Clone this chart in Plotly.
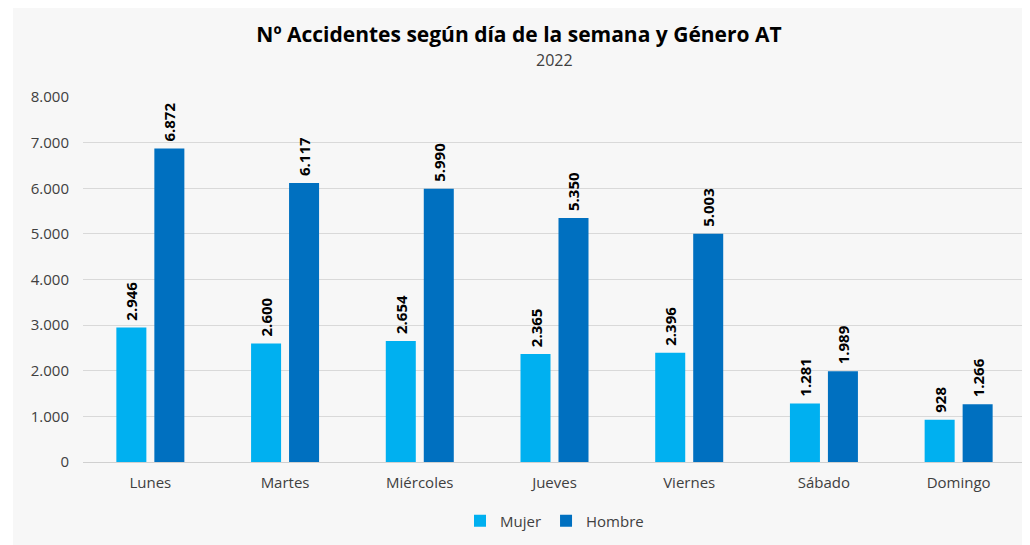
import plotly.graph_objects as go

dias = ["Lunes", "Martes", "Miércoles", "Jueves", "Viernes", "Sábado", "Domingo"]
mujer = [2946, 2600, 2654, 2365, 2396, 1281, 928]
hombre = [6872, 6117, 5990, 5350, 5003, 1989, 1266]
y_ticks = [0, 1000, 2000, 3000, 4000, 5000, 6000, 7000, 8000]

FONT = "Open Sans, Lato, Arial, sans-serif"

fig = go.Figure()
for name, vals, color in [("Mujer", mujer, "#00b0f0"), ("Hombre", hombre, "#0070c0")]:
    fig.add_trace(
        go.Bar(
            x=dias,
            y=vals,
            name=name,
            marker=dict(color=color, line=dict(width=0)),
            # a leading non-breaking space lifts the rotated label off the bar
            texttemplate="\u00a0%{y:,}",
            textposition="outside",
            textangle=-90,
            constraintext="none",
            textfont=dict(family=FONT, size=15, color="#000000", weight="bold"),
            cliponaxis=False,
        )
    )

# page body has an 8px margin, so the figure is sized 8px smaller
fig.update_layout(
    width=1022,
    height=537,
    separators=",.",
    barmode="group",
    bargap=0.436,
    bargroupgap=0.21,
    paper_bgcolor="#ffffff",
    plot_bgcolor="#f7f7f7",
    margin=dict(l=75, r=4, t=89, b=83, autoexpand=False),
    font=dict(family=FONT, size=15, color="#404040"),
    title=dict(
        text="<b>Nº Accidentes según día de la semana y Género AT</b>",
        x=0.5,
        xanchor="center",
        y=1 - 27 / 537,
        yanchor="middle",
        font=dict(family=FONT, size=21, color="#000000"),
    ),
    annotations=[
        dict(
            text="2022",
            xref="paper",
            yref="paper",
            x=0.5,
            y=1 + 37 / 365,
            xanchor="center",
            yanchor="middle",
            showarrow=False,
            font=dict(family=FONT, size=16, color="#404040"),
        )
    ],
    xaxis=dict(
        showline=False,
        ticks="",
        automargin=False,
        ticklabelstandoff=10,
        tickfont=dict(size=15, color="#404040"),
    ),
    yaxis=dict(
        range=[0, 8000],
        tickvals=y_ticks,
        tickformat=",",
        gridcolor="#d9d9d9",
        gridwidth=1,
        zeroline=True,
        zerolinecolor="#d0d0d0",
        zerolinewidth=1,
        ticks="",
        automargin=False,
        ticklabelstandoff=13,
        tickfont=dict(size=15, color="#404040"),
    ),
    legend=dict(
        orientation="h",
        x=0.5,
        xanchor="center",
        y=-59 / 365,
        yanchor="middle",
        font=dict(size=15, color="#404040"),
        itemwidth=30,
        bgcolor="rgba(0,0,0,0)",
    ),
    shapes=[
        dict(
            type="rect",
            xref="paper",
            yref="paper",
            x0=-70 / 943,
            x1=1.002,
            y0=-83 / 365,
            y1=1 + 89 / 365,
            fillcolor="#f7f7f7",
            line=dict(width=0),
            layer="below",
        )
    ],
)

fig.write_html("out.html")
